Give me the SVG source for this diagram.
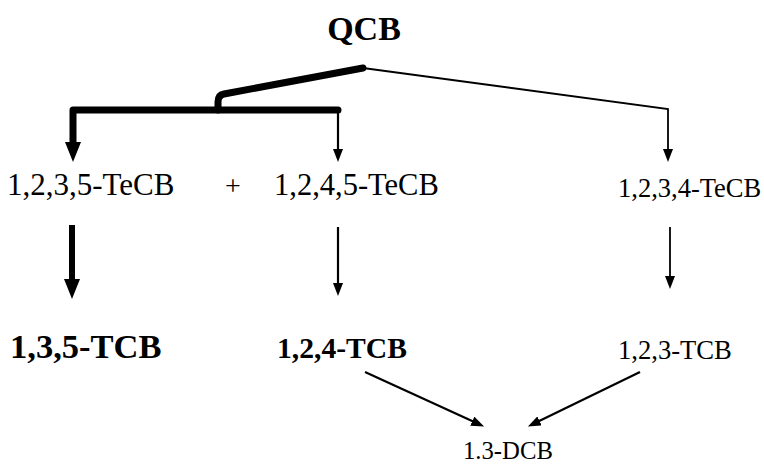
<svg xmlns="http://www.w3.org/2000/svg" width="764" height="465" viewBox="0 0 764 465">
  <style>
    text { font-family: "Liberation Serif", "Times New Roman", serif; fill: #000; }
    .reg { font-weight: normal; }
    .bold { font-weight: bold; }
    .thick { fill: none; stroke: #000; stroke-width: 7; stroke-linecap: round; stroke-linejoin: round; }
    .thin { fill: none; stroke: #000; stroke-width: 1.8; }
    .mid { fill: none; stroke: #000; stroke-width: 2.2; }
  </style>
  <defs>
    <marker id="headBig" viewBox="0 0 20 16" refX="1" refY="8" markerWidth="20" markerHeight="16" markerUnits="userSpaceOnUse" orient="auto">
      <path d="M0,0 L20,8 L0,16 z" fill="#000"/>
    </marker>
    <marker id="headSmall" viewBox="0 0 13 10" refX="1" refY="5" markerWidth="13" markerHeight="10" markerUnits="userSpaceOnUse" orient="auto">
      <path d="M0,0 L13,5 L0,10 z" fill="#000"/>
    </marker>
  </defs>

  <!-- connectors -->
  <g id="connectors">
    <!-- QCB to the 1,2,3,5 / 1,2,4,5 pair (major route) -->
    <path class="thick" d="M363,68 L224,94 Q218,95 218,102 L218,110"/>
    <path class="thick" d="M338,110 L73,110 L73,143" marker-end="url(#headBig)"/>
    <path class="mid" d="M338,110 L338,150" marker-end="url(#headSmall)"/>
    <!-- QCB to 1,2,3,4-TeCB (minor route) -->
    <path class="thin" d="M363,68 L668,109 L668,150" marker-end="url(#headSmall)"/>
    <!-- TeCB to TCB -->
    <path class="thick" style="stroke-width:6;stroke-linecap:butt" d="M72,225 L72,280" marker-end="url(#headBig)"/>
    <path class="mid" d="M338,227 L338,284" marker-end="url(#headSmall)"/>
    <path class="thin" d="M670,227 L670,277" marker-end="url(#headSmall)"/>
    <!-- TCB to 1,3-DCB -->
    <path class="mid" d="M365,372 L473.2,421.6" marker-end="url(#headSmall)"/>
    <path class="mid" d="M640,372 L538.7,421.3" marker-end="url(#headSmall)"/>
  </g>

  <g id="qcb"><text class="bold" x="364" y="40" font-size="34" text-anchor="middle">QCB</text></g>

  <g id="tecb-1235"><text class="reg" x="7" y="195" font-size="31">1,2,3,5-TeCB</text></g>
  <g id="plus"><text class="reg" x="233" y="195" font-size="28" text-anchor="middle">+</text></g>
  <g id="tecb-1245"><text class="reg" x="274" y="195" font-size="30.5">1,2,4,5-TeCB</text></g>
  <g id="tecb-1234"><text class="reg" x="618" y="197" font-size="26.5">1,2,3,4-TeCB</text></g>

  <g id="tcb-135"><text class="bold" x="10" y="358" font-size="34.5">1,3,5-TCB</text></g>
  <g id="tcb-124"><text class="bold" x="277" y="358" font-size="29.6">1,2,4-TCB</text></g>
  <g id="tcb-123"><text class="reg" x="618" y="359" font-size="26.6">1,2,3-TCB</text></g>

  <g id="dcb-13"><text class="reg" x="463" y="459" font-size="24.7">1.3-DCB</text></g>
</svg>
